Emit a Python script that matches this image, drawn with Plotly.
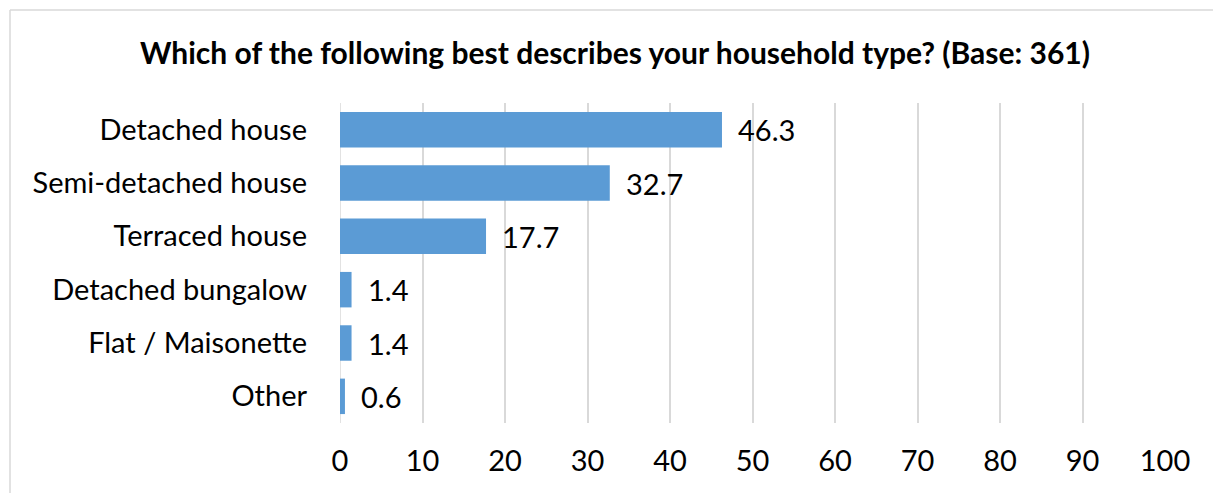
import plotly.graph_objects as go

categories = ["Detached house", "Semi-detached house", "Terraced house",
              "Detached bungalow", "Flat / Maisonette", "Other"]
values = [46.3, 32.7, 17.7, 1.4, 1.4, 0.6]
x_ticks = [0, 10, 20, 30, 40, 50, 60, 70, 80, 90, 100]
title_text = "Which of the following best describes your household type? (Base: 361)"

FONT = "Lato, 'Open Sans', sans-serif"
W, H = 1213, 493
L, T = 340, 103
R = W - 1165
B = H - 423
pw, ph = W - L - R, H - T - B

fig = go.Figure()
fig.add_trace(go.Bar(
    y=categories, x=values, orientation="h",
    marker=dict(color="#5b9bd5", line=dict(width=0)),
    width=0.665,
    hoverinfo="skip",
))

for c, v in zip(categories, values):
    fig.add_annotation(x=v, y=c, xref="x", yref="y", text=f"{v:.1f}",
                       showarrow=False, xanchor="left", yanchor="middle",
                       xshift=14, font=dict(family=FONT, size=29, color="#000000"))

# outer chart border: only top and left edges are visible in the reference crop
bx0 = (10 - L) / pw
by1 = (H - B - 10) / ph
border = dict(color="#d9d9d9", width=1.5)
fig.add_shape(type="line", xref="paper", yref="paper",
              x0=bx0, x1=(W + 10 - L) / pw, y0=by1, y1=by1,
              line=border, layer="below")
fig.add_shape(type="line", xref="paper", yref="paper",
              x0=bx0, x1=bx0, y0=by1, y1=(H - B - (H + 10)) / ph,
              line=border, layer="below")

fig.update_layout(
    width=W, height=H,
    margin=dict(l=L, r=R, t=T, b=B, autoexpand=False),
    paper_bgcolor="white", plot_bgcolor="white",
    showlegend=False,
    title=dict(text=f"<b>{title_text}</b>", x=615 / W, xanchor="center",
               y=1 - 53 / H, yanchor="middle", xref="container",
               yref="container",
               font=dict(family=FONT, size=30, color="#000000")),
    xaxis=dict(range=[0, 100], tickvals=x_ticks, showgrid=True,
               gridcolor="#d9d9d9", gridwidth=1.5, zeroline=False,
               showline=False, ticks="", ticklabelstandoff=18,
               tickfont=dict(family=FONT, size=29, color="#000000"),
               fixedrange=True),
    yaxis=dict(categoryorder="array", categoryarray=categories[::-1],
               showgrid=False, zeroline=False, showline=False, ticks="",
               ticklabelstandoff=32,
               tickfont=dict(family=FONT, size=29, color="#000000"),
               fixedrange=True),
)
fig.add_shape(type="line", xref="x", yref="paper", x0=0, x1=0, y0=0, y1=1,
              line=dict(color="#d9d9d9", width=1.5), layer="below")

fig.write_html(
    "out.html",
    config={"displayModeBar": False},
    post_script="document.body.style.margin='0';document.body.style.overflow='hidden';",
)
